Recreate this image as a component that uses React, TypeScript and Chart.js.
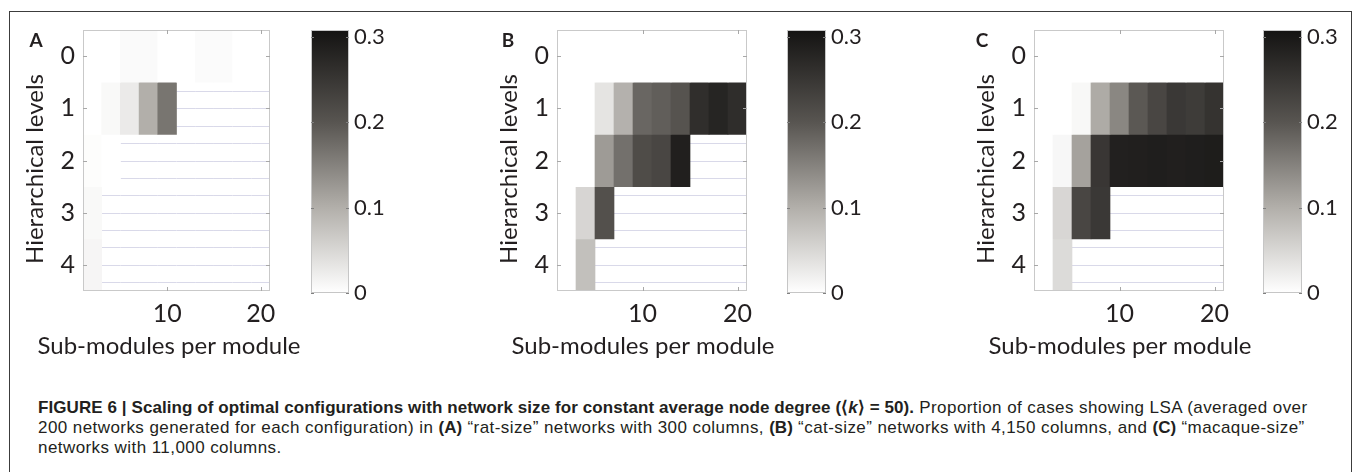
import React, { useEffect, useRef } from "react";
import { Chart, registerables } from "chart.js";

Chart.register(...registerables);

// ---------------- data ----------------
const SUBMODULES = [2, 4, 6, 8, 10, 12, 14, 16, 18, 20];
const LEVELS = [0, 1, 2, 3, 4];
const X_TICKS = [10, 20];
const CB_TICKS = [0, 0.1, 0.2, 0.3];
const CB_MAX = 0.308;

const N = null;
// (A) "rat-size" networks, 300 columns (rows = hierarchical levels 0..4)
const RAT_L0 = [0, 0, 0.006, 0.006, 0, 0, 0.005, 0.005, 0, 0];
const RAT_L1 = [0, 0.008, 0.026, 0.1, 0.165, N, N, N, N, N];
const RAT_L2 = [0.003, 0, N, N, N, N, N, N, N, N];
const RAT_L3 = [0.008, N, N, N, N, N, N, N, N, N];
const RAT_L4 = [0.012, N, N, N, N, N, N, N, N, N];
// (B) "cat-size" networks, 4,150 columns
const CAT_L0 = [0, 0, 0, 0, 0, 0, 0, 0, 0, 0];
const CAT_L1 = [0, 0, 0.034, 0.097, 0.181, 0.19, 0.203, 0.264, 0.279, 0.265];
const CAT_L2 = [0, 0, 0.122, 0.17, 0.215, 0.224, 0.288, N, N, N];
const CAT_L3 = [0, 0.052, 0.208, N, N, N, N, N, N, N];
const CAT_L4 = [0, 0.079, N, N, N, N, N, N, N, N];
// (C) "macaque-size" networks, 11,000 columns
const MAC_L0 = [0, 0, 0, 0, 0, 0, 0, 0, 0, 0];
const MAC_L1 = [0, 0, 0.009, 0.104, 0.145, 0.197, 0.224, 0.247, 0.241, 0.256];
const MAC_L2 = [0, 0.01, 0.115, 0.25, 0.286, 0.288, 0.29, 0.288, 0.29, 0.292];
const MAC_L3 = [0, 0.051, 0.224, 0.247, N, N, N, N, N, N];
const MAC_L4 = [0, 0.045, N, N, N, N, N, N, N, N];

const PANEL_LETTERS = ["A", "B", "C"];
const PANEL_ROWS = [
  [RAT_L0, RAT_L1, RAT_L2, RAT_L3, RAT_L4],
  [CAT_L0, CAT_L1, CAT_L2, CAT_L3, CAT_L4],
  [MAC_L0, MAC_L1, MAC_L2, MAC_L3, MAC_L4],
];
const X_TITLE = "Sub-modules per module";
const Y_TITLE = "Hierarchical levels";

// ---------------- layout / style ----------------
const LAYOUT = [
  { plotLeft: 83, plotRight: 270, cbLeft: 311, cbRight: 349, letterDx: -47 },
  { plotLeft: 557, plotRight: 747, cbLeft: 787, cbRight: 826, letterDx: -49 },
  { plotLeft: 1034, plotRight: 1224, cbLeft: 1263, cbRight: 1302, letterDx: -52 },
];
const PLOT_TOP = 30;
const PLOT_BOTTOM = 291;
const CANVAS_H = 370;
const Y_AXIS_W = 83;
const RIGHT_PAD = 60;
const CB_PAD_L = 11;
const CB_AXIS_W = 62;
const CB_BOTTOM = 293;
const CB_CANVAS_H = 320;
const TEXT = "#231f20";
const FONT = "Lato, 'Open Sans', sans-serif";

const CMAP: [number, number[]][] = [
  [0, [255, 255, 255]],
  [0.1, [178, 175, 170]],
  [0.2, [88, 85, 81]],
  [CB_MAX, [20, 19, 18]],
];
const rgb = (c: number[]) => `rgb(${c.map((x) => Math.round(x)).join(",")})`;
function colorFor(v: number) {
  for (let i = 1; i < CMAP.length; i++) {
    const [v0, c0] = CMAP[i - 1];
    const [v1, c1] = CMAP[i];
    if (v <= v1 || i === CMAP.length - 1) {
      const t = Math.max(0, Math.min(1, (v - v0) / (v1 - v0)));
      return rgb(c0.map((a, k) => a + (c1[k] - a) * t));
    }
  }
  return "#fff";
}

Chart.defaults.font.family = FONT;

// ---------------- plugins ----------------
const halfCol = (SUBMODULES[1] - SUBMODULES[0]) / 2;

function makeNanLinesPlugin(rows: (number | null)[][]) {
  return {
    id: "nanLines",
    beforeDatasetsDraw(chart: any) {
      const { ctx } = chart;
      const xs = chart.scales.x;
      const ys = chart.scales.y;
      ctx.save();
      ctx.strokeStyle = "#d9d9e9";
      ctx.lineWidth = 1;
      rows.forEach((row, r) => {
        row.forEach((v, c) => {
          if (v !== null) return;
          const x0 = xs.getPixelForValue(SUBMODULES[c] - halfCol);
          const x1 = xs.getPixelForValue(SUBMODULES[c] + halfCol);
          [-1 / 3, 0, 1 / 3].forEach((off) => {
            const y = Math.round(ys.getPixelForValue(LEVELS[r] + off)) + 0.5;
            ctx.beginPath();
            ctx.moveTo(x0, y);
            ctx.lineTo(x1, y);
            ctx.stroke();
          });
        });
      });
      ctx.restore();
    },
  };
}

const framePlugin = {
  id: "frame",
  afterDatasetsDraw(chart: any) {
    const { ctx, chartArea: a } = chart;
    const xs = chart.scales.x;
    const ys = chart.scales.y;
    ctx.save();
    ctx.strokeStyle = "#c9c9c9";
    ctx.lineWidth = 1;
    ctx.strokeRect(a.left + 0.5, a.top + 0.5, a.right - a.left - 1, a.bottom - a.top - 1);
    ctx.strokeStyle = "#a8a8a8";
    ctx.beginPath();
    X_TICKS.forEach((t) => {
      const x = Math.round(xs.getPixelForValue(t)) + 0.5;
      ctx.moveTo(x, a.bottom);
      ctx.lineTo(x, a.bottom - 4);
      ctx.moveTo(x, a.top);
      ctx.lineTo(x, a.top + 4);
    });
    LEVELS.forEach((t) => {
      const y = Math.round(ys.getPixelForValue(t)) + 0.5;
      ctx.moveTo(a.left, y);
      ctx.lineTo(a.left + 4, y);
      ctx.moveTo(a.right, y);
      ctx.lineTo(a.right - 4, y);
    });
    ctx.stroke();
    ctx.restore();
  },
};

function makeTitlesPlugin(letter: string, letterDx: number) {
  return {
    id: "titles",
    afterDraw(chart: any) {
      const { ctx, chartArea: a } = chart;
      ctx.save();
      ctx.fillStyle = TEXT;
      ctx.textBaseline = "alphabetic";
      ctx.textAlign = "center";
      ctx.font = `24px ${FONT}`;
      ctx.fillText(X_TITLE, a.left + 86, 353.5);
      ctx.save();
      ctx.translate(a.left - 40, 169);
      ctx.rotate(-Math.PI / 2);
      ctx.fillText(Y_TITLE, 0, 0);
      ctx.restore();
      ctx.font = `bold 19px ${FONT}`;
      ctx.fillText(letter, a.left + letterDx, 46.5);
      ctx.restore();
    },
  };
}

const cbFramePlugin = {
  id: "cbFrame",
  afterDatasetsDraw(chart: any) {
    const { ctx, chartArea: a } = chart;
    const ys = chart.scales.y;
    ctx.save();
    ctx.strokeStyle = "#c6c6c6";
    ctx.lineWidth = 1;
    ctx.strokeRect(a.left + 0.5, a.top + 0.5, a.right - a.left - 1, a.bottom - a.top - 1);
    ctx.strokeStyle = "#808080";
    ctx.beginPath();
    CB_TICKS.forEach((t) => {
      const y = Math.round(ys.getPixelForValue(t)) + 0.5;
      ctx.moveTo(a.left, y);
      ctx.lineTo(a.left + 3, y);
      ctx.moveTo(a.right, y);
      ctx.lineTo(a.right - 3, y);
    });
    ctx.stroke();
    ctx.restore();
  },
};

// ---------------- components ----------------
function Heatmap({ rows, layout, letter }: any) {
  const ref = useRef<HTMLCanvasElement>(null);
  const width = Y_AXIS_W + (layout.plotRight - layout.plotLeft) + RIGHT_PAD;
  useEffect(() => {
    const datasets = rows.map((row: (number | null)[], r: number) => ({
      data: SUBMODULES.map((s, c) => ({ x: s, y: [LEVELS[r] - 0.5, LEVELS[r] + 0.5], v: row[c] })).filter(
        (d) => d.v !== null
      ),
      backgroundColor: (ctx: any) => colorFor(ctx.raw ? ctx.raw.v : 0),
      borderWidth: 0,
      grouped: false,
      barPercentage: 1,
      categoryPercentage: 1,
    }));
    const chart = new Chart(ref.current as HTMLCanvasElement, {
      type: "bar",
      data: { datasets },
      options: {
        responsive: false,
        animation: false,
        events: [],
        layout: { padding: { left: 0, top: PLOT_TOP, right: RIGHT_PAD, bottom: 0 } },
        plugins: { legend: { display: false }, tooltip: { enabled: false } },
        scales: {
          x: {
            type: "linear",
            min: 1,
            max: 21,
            offset: false,
            grid: { display: false, drawTicks: false, offset: false },
            border: { display: false },
            afterBuildTicks: (s: any) => {
              s.ticks = X_TICKS.map((value) => ({ value }));
            },
            afterFit: (s: any) => {
              s.height = CANVAS_H - PLOT_BOTTOM;
            },
            ticks: {
              font: { size: 25, family: FONT },
              color: TEXT,
              padding: 8,
              maxRotation: 0,
              autoSkip: false,
              callback: (v: any) => String(v),
            },
          },
          y: {
            type: "linear",
            min: -0.5,
            max: 4.5,
            reverse: true,
            grid: { display: false, drawTicks: false },
            border: { display: false },
            afterBuildTicks: (s: any) => {
              s.ticks = LEVELS.map((value) => ({ value }));
            },
            afterFit: (s: any) => {
              s.width = Y_AXIS_W;
            },
            ticks: {
              font: { size: 25, family: FONT },
              color: TEXT,
              padding: 8,
              autoSkip: false,
              callback: (v: any) => String(v),
            },
          },
        },
      } as any,
      plugins: [makeNanLinesPlugin(rows), framePlugin, makeTitlesPlugin(letter, layout.letterDx)],
    });
    return () => chart.destroy();
  }, []);
  return (
    <canvas
      ref={ref}
      width={width}
      height={CANVAS_H}
      style={{ position: "absolute", left: layout.plotLeft - Y_AXIS_W, top: 0, width, height: CANVAS_H }}
    />
  );
}

function ColorBar({ layout }: any) {
  const ref = useRef<HTMLCanvasElement>(null);
  const width = CB_PAD_L + (layout.cbRight - layout.cbLeft) + CB_AXIS_W;
  useEffect(() => {
    const chart = new Chart(ref.current as HTMLCanvasElement, {
      type: "bar",
      data: {
        labels: [""],
        datasets: [
          {
            data: [[0, CB_MAX]],
            backgroundColor: (ctx: any) => {
              const ch = ctx.chart;
              const ys = ch.scales.y;
              if (!ys || !ch.chartArea) return "#888";
              const g = ch.ctx.createLinearGradient(0, ys.getPixelForValue(0), 0, ys.getPixelForValue(CB_MAX));
              CMAP.forEach(([v, c]) => g.addColorStop(v / CB_MAX, rgb(c)));
              return g;
            },
            borderWidth: 0,
            barPercentage: 1,
            categoryPercentage: 1,
          },
        ],
      },
      options: {
        responsive: false,
        animation: false,
        events: [],
        layout: { padding: { left: CB_PAD_L, top: PLOT_TOP, right: 0, bottom: CB_CANVAS_H - CB_BOTTOM } },
        plugins: { legend: { display: false }, tooltip: { enabled: false } },
        scales: {
          x: { display: false },
          y: {
            position: "right",
            min: 0,
            max: CB_MAX,
            grid: { display: false, drawTicks: false },
            border: { display: false },
            afterBuildTicks: (s: any) => {
              s.ticks = CB_TICKS.map((value) => ({ value }));
            },
            afterFit: (s: any) => {
              s.width = CB_AXIS_W;
            },
            ticks: {
              font: { size: 22, family: FONT },
              color: TEXT,
              padding: 5,
              autoSkip: false,
              callback: (v: any) => String(v),
            },
          },
        },
      } as any,
      plugins: [cbFramePlugin],
    });
    return () => chart.destroy();
  }, []);
  return (
    <canvas
      ref={ref}
      width={width}
      height={CB_CANVAS_H}
      style={{ position: "absolute", left: layout.cbLeft - CB_PAD_L, top: 0, width, height: CB_CANVAS_H }}
    />
  );
}

function Caption() {
  const bold = { fontWeight: 700, letterSpacing: "0.08px" } as const;
  return (
    <div
      style={{
        position: "absolute",
        left: 38,
        top: 398,
        fontFamily: "'Liberation Sans', Arial, sans-serif",
        fontSize: 17,
        letterSpacing: "0.43px",
        lineHeight: "20px",
        color: TEXT,
        whiteSpace: "nowrap",
      }}
    >
      <span style={bold}>
        FIGURE 6 | Scaling of optimal configurations with network size for constant average node degree (⟨<i>k</i>⟩ =
        50).
      </span>{" "}
      Proportion of cases showing LSA (averaged over
      <br />
      200 networks generated for each configuration) in <span style={bold}>(A)</span> “rat-size” networks with 300
      columns, <span style={bold}>(B)</span> “cat-size” networks with 4,150 columns, and{" "}
      <span style={bold}>(C)</span> “macaque-size”
      <br />
      networks with 11,000 columns.
    </div>
  );
}

export default function App() {
  return (
    <div
      style={{
        position: "absolute",
        left: 0,
        top: 0,
        width: 1355,
        height: 472,
        overflow: "hidden",
        background: "#fff",
      }}
    >
      <div
        style={{
          position: "absolute",
          left: 9,
          top: 11,
          width: 1343,
          height: 520,
          border: "1px solid #3c3c3c",
          boxSizing: "border-box",
        }}
      />
      {LAYOUT.map((l, i) => (
        <React.Fragment key={i}>
          <Heatmap rows={PANEL_ROWS[i]} layout={l} letter={PANEL_LETTERS[i]} />
          <ColorBar layout={l} />
        </React.Fragment>
      ))}
      <Caption />
    </div>
  );
}
